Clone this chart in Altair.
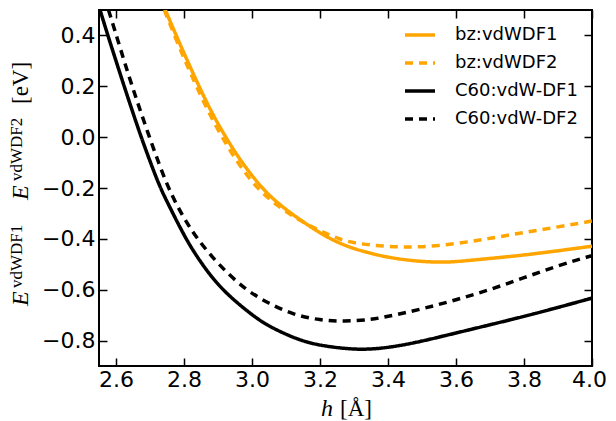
import altair as alt
import pandas as pd

series_names = ["bz:vdWDF1", "bz:vdWDF2", "C60:vdW-DF1", "C60:vdW-DF2"]
series_colors = ["#FFA500", "#FFA500", "#000000", "#000000"]

# bz:vdWDF1 (orange solid)
x_bz1 = [2.745, 2.777, 2.81, 2.844, 2.88, 2.922, 2.97, 3.028, 3.08, 3.136, 3.20, 3.25,
         3.30, 3.40, 3.50, 3.56, 3.60, 3.70, 3.80, 3.90, 4.00]
y_bz1 = [0.50, 0.40, 0.30, 0.20, 0.10, 0.00, -0.10, -0.20, -0.265, -0.32, -0.378, -0.413,
         -0.44, -0.475, -0.49, -0.492, -0.49, -0.477, -0.464, -0.447, -0.429]

# bz:vdWDF2 (orange dashed)
x_bz2 = [2.742, 2.775, 2.808, 2.84, 2.877, 2.918, 2.965, 3.02, 3.08, 3.136, 3.20, 3.25,
         3.30, 3.40, 3.49, 3.60, 3.70, 3.80, 3.90, 4.00]
y_bz2 = [0.50, 0.39, 0.285, 0.19, 0.085, -0.015, -0.115, -0.21, -0.275, -0.325, -0.368, -0.398,
         -0.418, -0.431, -0.434, -0.42, -0.398, -0.375, -0.353, -0.33]

# C60:vdW-DF1 (black solid)
x_c1 = [2.553, 2.576, 2.60, 2.624, 2.65, 2.674, 2.70, 2.73, 2.76, 2.805, 2.85, 2.91, 3.00,
        3.05, 3.135, 3.20, 3.31, 3.40, 3.50, 3.60, 3.70, 3.80, 3.90, 4.00]
y_c1 = [0.50, 0.40, 0.30, 0.20, 0.095, 0.00, -0.095, -0.20, -0.28, -0.40, -0.495, -0.60, -0.70,
        -0.745, -0.797, -0.82, -0.838, -0.829, -0.803, -0.77, -0.738, -0.705, -0.67, -0.633]

# C60:vdW-DF2 (black dashed)
x_c2 = [2.578, 2.601, 2.647, 2.698, 2.752, 2.80, 2.839, 2.90, 2.98, 3.05, 3.125, 3.20, 3.27,
        3.35, 3.40, 3.50, 3.60, 3.70, 3.80, 3.90, 4.00]
y_c2 = [0.50, 0.40, 0.20, 0.00, -0.20, -0.32, -0.40, -0.50, -0.60, -0.655, -0.70, -0.72, -0.725,
        -0.718, -0.705, -0.676, -0.64, -0.60, -0.553, -0.505, -0.466]

x_ticks = [2.6, 2.8, 3.0, 3.2, 3.4, 3.6, 3.8, 4.0]
y_ticks = [-0.8, -0.6, -0.4, -0.2, 0.0, 0.2, 0.4]

rows = []
for name, xs, ys in zip(series_names, [x_bz1, x_bz2, x_c1, x_c2], [y_bz1, y_bz2, y_c1, y_c2]):
    for xv, yv in zip(xs, ys):
        rows.append({"h": xv, "E": yv, "series": name})
df = pd.DataFrame(rows)

W, H = 493, 356
xscale = alt.Scale(domain=[2.55, 4.0], nice=False, zero=False)
yscale = alt.Scale(domain=[-0.9, 0.5], nice=False, zero=False)

legend_kw = dict(
    orient="none", legendX=304, legendY=8, title=None, symbolType="stroke",
    symbolStrokeWidth=3.5, symbolSize=900, labelFontSize=18, labelFont="DejaVu Sans",
    labelColor="black", rowPadding=2, labelOffset=18, padding=0, labelLimit=300,
)

color = alt.Color("series:N", scale=alt.Scale(domain=series_names, range=series_colors),
                  legend=alt.Legend(**legend_kw))
dash = alt.StrokeDash("series:N",
                      scale=alt.Scale(domain=series_names, range=[[1, 0], [8, 6], [1, 0], [8, 6]]),
                      legend=alt.Legend(**legend_kw))

lines = alt.Chart(df).mark_line(strokeWidth=3.5, clip=True, interpolate="basis").encode(
    x=alt.X("h:Q", scale=xscale,
            axis=alt.Axis(orient="bottom", values=x_ticks, format=".1f", ticks=False, tickSize=0,
                          domain=False, grid=False, title=None, labelFontSize=22,
                          labelFont="DejaVu Sans", labelColor="black", labelPadding=3,
                          labelFlush=False, labelOverlap=False,
                          labelOffset={"condition": {"test": "datum.value >= 3.99", "value": -3},
                                       "value": 0})),
    y=alt.Y("E:Q", scale=yscale,
            axis=alt.Axis(orient="left", values=y_ticks, format=".1f", ticks=False, tickSize=0,
                          domain=False, grid=False, title=None, labelFontSize=22,
                          labelFont="DejaVu Sans", labelColor="black", labelPadding=4,
                          labelFlush=False, labelOverlap=False)),
    color=color,
    strokeDash=dash,
)


def tick_axis(orient, offset, values):
    return alt.Axis(orient=orient, offset=offset, values=values, labels=False, ticks=True,
                    tickSize=8, tickWidth=1.5, tickColor="black", domain=False, grid=False,
                    title=None)


ticks_a = alt.Chart(df).mark_point(opacity=0).encode(
    x=alt.X("h:Q", scale=xscale, axis=tick_axis("top", -H, x_ticks)),
    y=alt.Y("E:Q", scale=yscale, axis=tick_axis("right", -W, y_ticks)),
)
ticks_b = alt.Chart(df).mark_point(opacity=0).encode(
    x=alt.X("h:Q", scale=xscale, axis=tick_axis("bottom", -H, x_ticks)),
    y=alt.Y("E:Q", scale=yscale, axis=tick_axis("left", -W, y_ticks)),
)


def label(text, x, y, size, angle=0, italic=False):
    kw = dict(text=text, align="left", baseline="alphabetic", fontSize=size,
              font="Liberation Serif", color="black")
    if angle:
        kw["angle"] = angle
    if italic:
        kw["fontStyle"] = "italic"
    return alt.Chart(pd.DataFrame({"t": [text]})).mark_text(**kw).encode(
        x=alt.value(x), y=alt.value(y))


texts = [
    label("E", -71, 296, 24, 270, True),
    label("vdWDF1", -77, 278, 17, 270),
    label("E", -71, 190, 24, 270, True),
    label("vdWDF2", -77, 171, 17, 270),
    label("[eV]", -71, 94, 23, 270),
    label("h", 222, 406, 24, 0, True),
    label("[Å]", 241, 406, 23, 0),
]

chart = alt.layer(ticks_a, ticks_b, lines, *texts).resolve_axis(
    x="independent", y="independent"
).properties(
    width=W, height=H,
    autosize=alt.AutoSizeParams(type="none"),
    padding={"left": 91, "top": 2, "right": 16, "bottom": 55},
).configure_view(stroke="black", strokeWidth=2)

chart.save("out.html", embed_options={"renderer": "svg", "actions": False})
